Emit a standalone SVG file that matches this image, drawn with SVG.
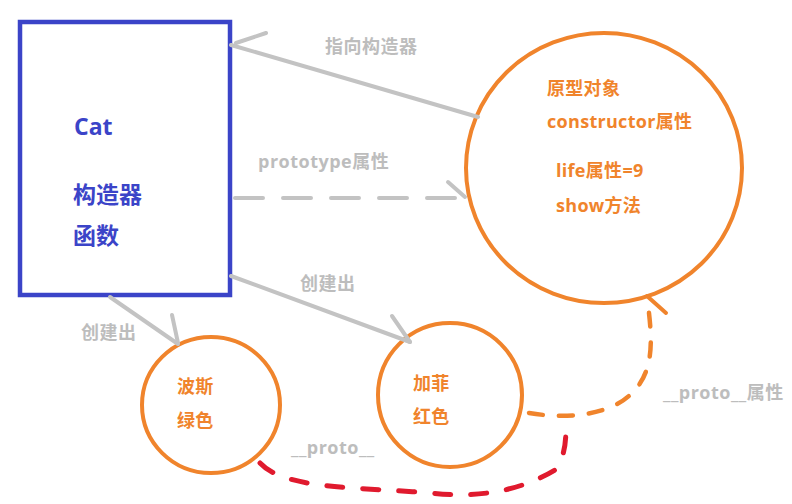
<svg xmlns="http://www.w3.org/2000/svg" width="792" height="504" viewBox="0 0 792 504">
<style>
.bg{fill:#ffffff}
.conn{fill:none;stroke:#c3c3c3;stroke-width:4;stroke-linecap:round}
.dash{stroke-dasharray:28 20}
.orange{fill:none;stroke:#f0842c;stroke-width:4;stroke-linecap:round}
.odash{fill:none;stroke:#f0842c;stroke-width:4.5;stroke-linecap:round;stroke-dasharray:14 16}
.rdash{fill:none;stroke:#e01a2e;stroke-width:5;stroke-linecap:round;stroke-dasharray:16 20}
.node{fill:#ffffff;stroke:#f0842c;stroke-width:4}
.box{fill:#ffffff;stroke:#3b44c8;stroke-width:4.5}
.lbl{font-family:"Open Sans","Noto Sans CJK SC",sans-serif;font-size:18px;letter-spacing:0.5px;font-weight:bold;fill:#bdbdbd}
.otx{font-family:"Open Sans","Noto Sans CJK SC",sans-serif;font-size:18px;letter-spacing:0.3px;font-weight:bold;fill:#f0842c}
.btx{font-family:"Open Sans","Noto Sans CJK SC",sans-serif;font-size:23px;font-weight:bold;fill:#3b44c8}
</style>
<rect class="bg" x="0" y="0" width="792" height="504"/>
<g id="cat">
<rect class="box" x="20" y="22" width="210" height="273"/>
<text class="btx" x="74" y="135">Cat</text>
<text class="btx" x="73" y="203">构造器</text>
<text class="btx" x="73" y="244">函数</text>
</g>
<g id="prototype-object">
<ellipse class="node" cx="604" cy="168" rx="138" ry="135"/>
<text class="otx" x="547" y="95">原型对象</text>
<text class="otx" x="547" y="128">constructor属性</text>
<text class="otx" x="556" y="177">life属性=9</text>
<text class="otx" x="556" y="212">show方法</text>
</g>
<g id="bosi">
<ellipse class="node" cx="211" cy="405" rx="69" ry="68"/>
<text class="otx" x="177" y="393">波斯</text>
<text class="otx" x="177" y="427">绿色</text>
</g>
<g id="jiafei">
<ellipse class="node" cx="450" cy="395" rx="72" ry="72"/>
<text class="otx" x="413" y="390">加菲</text>
<text class="otx" x="413" y="423">红色</text>
</g>
<g id="connectors">
<line class="conn" x1="478" y1="117" x2="231" y2="45"/>
<line class="conn" x1="236" y1="43" x2="266" y2="33"/>
<text class="lbl" x="325" y="53">指向构造器</text>
<line class="conn dash" x1="235" y1="198" x2="465" y2="198"/>
<line class="conn" x1="448" y1="182" x2="465" y2="197"/>
<text class="lbl" x="258" y="168">prototype属性</text>
<line class="conn" x1="231" y1="276" x2="410" y2="342"/>
<line class="conn" x1="392" y1="316" x2="410" y2="342"/>
<text class="lbl" x="300" y="290">创建出</text>
<line class="conn" x1="110" y1="297" x2="178" y2="344"/>
<line class="conn" x1="172" y1="315" x2="178" y2="343"/>
<text class="lbl" x="81" y="339">创建出</text>
<path class="odash" d="M529,413 C570,420 612,414 632,393 C656,370 652,335 647,297"/>
<line class="orange" x1="647" y1="296" x2="666" y2="313"/>
<text class="lbl" x="663" y="399">__proto__属性</text>
<path class="rdash" d="M260,463 C285,490 360,487 430,493 C490,500 530,485 555,470 C566,455 566,440 566,420"/>
<text class="lbl" x="291" y="454">__proto__</text>
</g>
</svg>
